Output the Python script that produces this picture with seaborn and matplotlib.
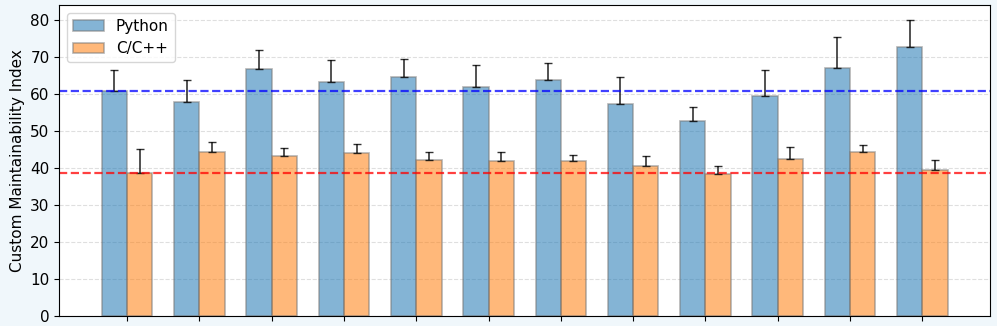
import pandas as pd
import seaborn as sns
import matplotlib.pyplot as plt
import numpy as np

# Values
groups = [f"G{i}" for i in range(1, 13)]
python_vals = [61.0, 57.9, 66.9, 63.2, 64.8, 62.0, 64.0, 57.3, 52.7, 59.4, 67.1, 72.7]
python_err = [5.5, 6.0, 5.1, 6.1, 4.7, 5.8, 4.6, 7.5, 3.9, 7.1, 8.4, 7.4]
cpp_vals = [38.8, 44.4, 43.4, 44.1, 42.1, 42.0, 42.0, 40.5, 38.4, 42.6, 44.4, 39.4]
cpp_err = [6.5, 2.8, 2.0, 2.5, 2.2, 2.5, 1.6, 2.9, 2.3, 3.1, 1.9, 2.7]
python_baseline = 61.0
cpp_baseline = 38.8

plt.rcParams["font.size"] = 11

df = pd.DataFrame({
    "group": groups * 2,
    "value": python_vals + cpp_vals,
    "lang": ["Python"] * len(groups) + ["C/C++"] * len(groups),
})

fig, ax = plt.subplots(figsize=(9.97, 3.26), dpi=100)
fig.patch.set_facecolor("#f0f7fb")
fig.subplots_adjust(left=0.0595, right=0.993, bottom=0.031, top=0.985)

sns.barplot(data=df, x="group", y="value", hue="lang", palette=["#1f77b4", "#ff7f0e"],
            saturation=1, width=0.7, alpha=0.55, edgecolor="#777777", linewidth=1.2,
            errorbar=None, ax=ax)

# upward-only error bars
x = np.arange(len(groups))
w = 0.35
ax.errorbar(x - w / 2, python_vals, yerr=[np.zeros(len(groups)), python_err],
            fmt="none", ecolor="black", elinewidth=1.2, capsize=3, alpha=0.8)
ax.errorbar(x + w / 2, cpp_vals, yerr=[np.zeros(len(groups)), cpp_err],
            fmt="none", ecolor="black", elinewidth=1.2, capsize=3, alpha=0.8)

ax.axhline(python_baseline, color="blue", linestyle="--", linewidth=1.6, alpha=0.75)
ax.axhline(cpp_baseline, color="red", linestyle="--", linewidth=1.6, alpha=0.75)

ax.set_xlim(-0.935, 11.935)
ax.set_ylim(0, 84.2)
ax.set_xticks(x)
ax.set_xticklabels([])
ax.set_xlabel("")
ax.set_ylabel("Custom Maintainability Index")
ax.yaxis.grid(True, linestyle="--", alpha=0.4)
ax.set_axisbelow(True)
ax.legend(loc="upper left")

fig.savefig("out.png", facecolor=fig.get_facecolor())
